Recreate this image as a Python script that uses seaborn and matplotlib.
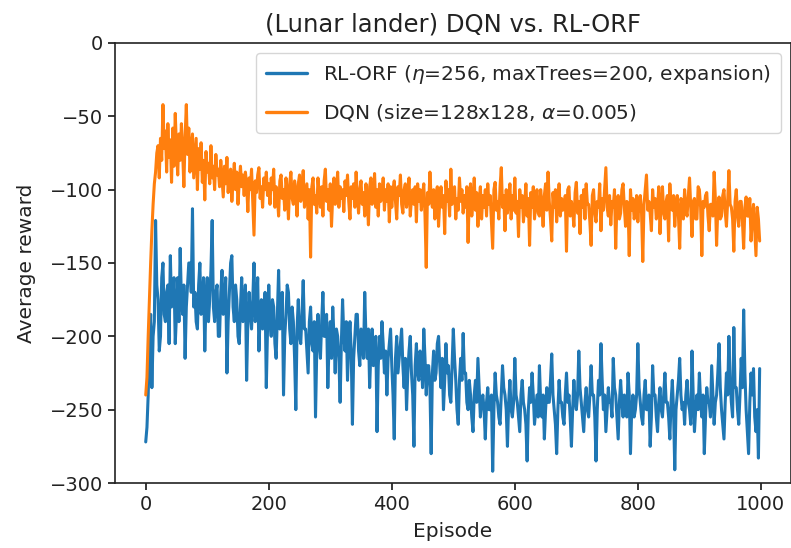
import numpy as np
import pandas as pd
import matplotlib
matplotlib.use("Agg")
import matplotlib.pyplot as plt
import seaborn as sns

episodes = list(range(0, 1000, 2))

dqn_reward = [
    -240, -228, -200, -175, -150, -128, -110, -96, -88, -75, -70, -92, -65, -80, -42, -72, -60, -88, -55, -78,
    -66, -95, -58, -84, -48, -72, -90, -62, -80, -55, -74, -98, -64, -42, -76, -58, -88, -70, -62, -92,
    -78, -65, -100, -72, -86, -68, -95, -80, -107, -74, -88, -82, -96, -70, -92, -84, -100, -76, -90, -86,
    -98, -80, -92, -105, -84, -96, -78, -102, -90, -86, -108, -94, -82, -100, -88, -110, -95, -84, -98, -90,
    -104, -88, -96, -115, -92, -100, -86, -108, -131, -94, -102, -90, -85, -106, -98, -112, -92, -100, -88, -104,
    -96, -110, -92, -100, -86, -112, -98, -104, -118, -94, -90, -106, -100, -114, -92, -102, -120, -96, -88, -106,
    -110, -94, -102, -118, -96, -90, -108, -100, -87, -112, -104, -96, -120, -100, -146, -98, -92, -110, -104, -116,
    -92, -104, -112, -98, -118, -94, -86, -108, -100, -114, -96, -125, -104, -92, -110, -100, -88, -112, -98, -106,
    -100, -115, -94, -104, -90, -108, -120, -98, -106, -96, -112, -88, -104, -116, -100, -94, -110, -102, -118, -96,
    -106, -124, -98, -92, -110, -104, -89, -112, -100, -118, -96, -108, -104, -92, -114, -100, -108, -96, -122, -98,
    -112, -100, -94, -108, -120, -98, -104, -90, -110, -116, -100, -96, -112, -104, -92, -118, -106, -100, -110, -98,
    -122, -96, -108, -100, -114, -104, -96, -118, -153, -102, -110, -88, -106, -112, -100, -120, -104, -98, -125, -108,
    -98, -112, -104, -130, -94, -108, -100, -118, -86, -110, -104, -98, -120, -106, -114, -92, -108, -100, -116, -104,
    -112, -98, -136, -104, -96, -118, -108, -92, -114, -102, -125, -108, -98, -120, -104, -112, -100, -118, -96, -110,
    -104, -122, -140, -100, -95, -114, -108, -120, -98, -85, -112, -104, -128, -100, -116, -108, -96, -120, -104, -114,
    -92, -116, -108, -132, -100, -112, -104, -122, -110, -96, -118, -106, -138, -102, -112, -98, -120, -108, -100, -116,
    -118, -100, -110, -125, -104, -96, -114, -88, -108, -120, -135, -102, -112, -100, -122, -108, -96, -118, -106, -114,
    -112, -104, -142, -100, -98, -118, -108, -114, -125, -102, -95, -116, -108, -130, -104, -112, -100, -120, -96, -110,
    -110, -122, -138, -104, -100, -116, -122, -108, -112, -96, -128, -106, -114, -100, -85, -112, -118, -104, -124, -108,
    -112, -100, -140, -108, -104, -120, -116, -100, -96, -112, -125, -108, -110, -145, -100, -114, -106, -120, -115, -104,
    -122, -108, -104, -116, -149, -110, -100, -90, -114, -108, -116, -128, -100, -112, -106, -120, -112, -98, -130, -110,
    -98, -116, -120, -108, -104, -135, -96, -112, -114, -104, -125, -110, -104, -118, -140, -106, -110, -120, -100, -114,
    -118, -104, -92, -112, -132, -108, -106, -120, -120, -98, -100, -112, -145, -108, -112, -104, -102, -118, -128, -110,
    -110, -118, -88, -106, -138, -112, -105, -120, -118, -104, -100, -115, -125, -108, -87, -110, -112, -120, -142, -108,
    -100, -118, -125, -108, -108, -122, -140, -112, -105, -118, -118, -106, -135, -120, -110, -128, -145, -112, -120, -135,
]

rlorf_reward = [
    -272, -262, -240, -205, -185, -235, -200, -190, -121, -165, -175, -210, -200, -160, -150, -185, -190, -170, -165, -205,
    -145, -180, -175, -160, -205, -185, -160, -190, -140, -175, -185, -165, -215, -180, -165, -150, -150, -170, -113, -180,
    -170, -190, -195, -165, -150, -185, -180, -160, -210, -175, -160, -190, -175, -155, -121, -180, -190, -170, -165, -200,
    -200, -170, -155, -185, -180, -160, -225, -190, -170, -150, -145, -180, -190, -165, -175, -200, -205, -180, -160, -190,
    -185, -165, -230, -190, -170, -185, -195, -175, -150, -190, -180, -160, -210, -185, -175, -195, -190, -170, -235, -195,
    -165, -190, -200, -175, -180, -205, -215, -185, -155, -195, -190, -170, -240, -200, -185, -165, -170, -195, -205, -180,
    -190, -215, -250, -195, -175, -200, -205, -185, -162, -195, -195, -210, -225, -190, -180, -205, -210, -190, -255, -210,
    -185, -205, -215, -190, -170, -200, -200, -185, -235, -205, -190, -215, -180, -200, -225, -195, -200, -215, -245, -205,
    -175, -200, -210, -190, -230, -205, -190, -210, -260, -215, -200, -185, -185, -210, -220, -195, -205, -215, -170, -200,
    -215, -195, -235, -210, -195, -220, -210, -200, -265, -220, -200, -215, -190, -205, -225, -210, -240, -215, -205, -195,
    -220, -240, -270, -215, -200, -225, -215, -205, -195, -220, -235, -215, -250, -225, -210, -200, -225, -240, -275, -220,
    -205, -225, -230, -210, -215, -235, -195, -215, -240, -220, -220, -235, -280, -225, -210, -230, -225, -205, -200, -220,
    -235, -215, -250, -230, -205, -225, -220, -240, -245, -220, -195, -215, -230, -250, -260, -230, -215, -230, -198, -225,
    -225, -245, -250, -230, -240, -255, -265, -240, -230, -245, -215, -235, -255, -245, -240, -250, -270, -245, -235, -250,
    -250, -240, -292, -250, -225, -240, -245, -255, -260, -240, -220, -235, -240, -250, -275, -245, -230, -250, -255, -245,
    -215, -240, -245, -255, -265, -240, -230, -245, -250, -260, -285, -250, -235, -245, -225, -240, -260, -250, -240, -255,
    -220, -245, -255, -240, -270, -250, -235, -245, -245, -230, -212, -240, -250, -260, -280, -250, -230, -245, -245, -255,
    -260, -240, -225, -245, -240, -255, -275, -250, -230, -245, -250, -240, -210, -235, -245, -255, -265, -245, -235, -250,
    -255, -240, -220, -240, -240, -255, -285, -250, -230, -240, -205, -230, -250, -240, -265, -250, -235, -245, -245, -255,
    -215, -235, -240, -255, -270, -245, -230, -245, -255, -240, -245, -255, -225, -240, -280, -250, -240, -255, -250, -240,
    -205, -235, -245, -255, -260, -240, -230, -250, -250, -240, -275, -255, -220, -240, -240, -255, -265, -245, -235, -250,
    -255, -240, -225, -245, -245, -255, -270, -245, -230, -250, -291, -250, -240, -230, -215, -240, -250, -245, -260, -240,
    -230, -245, -250, -260, -210, -240, -265, -250, -240, -250, -225, -245, -255, -240, -280, -255, -235, -245, -245, -255,
    -220, -240, -260, -245, -240, -225, -205, -235, -250, -260, -270, -245, -225, -240, -200, -230, -245, -255, -194, -235,
    -235, -250, -260, -240, -215, -235, -182, -225, -250, -265, -280, -245, -225, -240, -222, -255, -265, -250, -283, -222,
]

labels = [r"RL-ORF ($\eta$=256, maxTrees=200, expansion)",
          r"DQN (size=128x128, $\alpha$=0.005)"]
title = "(Lunar lander) DQN vs. RL-ORF"

df = pd.concat([
    pd.DataFrame({"Episode": episodes, "reward": rlorf_reward, "series": labels[0]}),
    pd.DataFrame({"Episode": episodes, "reward": dqn_reward, "series": labels[1]}),
])

sns.set_style("ticks")
plt.rcParams["font.family"] = ["DejaVu Sans"]

fig = plt.figure(figsize=(7.91, 5.48), dpi=100)
ax = fig.add_axes([115 / 791, 1 - 483 / 548, 1 - 115 / 791, 440 / 548])

sns.lineplot(data=df, x="Episode", y="reward", hue="series", hue_order=labels,
             palette=["#1f77b4", "#ff7f0e"], estimator=None, linewidth=2.2, ax=ax)

ax.set_xlim(-49.95, 1048.95)
ax.set_ylim(-300, 0)
ax.set_xticks([0, 200, 400, 600, 800, 1000])
ax.set_yticks([-300, -250, -200, -150, -100, -50, 0])
ax.tick_params(labelsize=14, length=5, width=1.1, color="black", labelcolor="#222222")
for s in ax.spines.values():
    s.set_linewidth(1.2)
    s.set_color("#222222")

ax.set_title(title, fontsize=17.5, color="#222222", pad=8)
ax.set_xlabel("Episode", fontsize=14.5, color="#222222", labelpad=6)
ax.set_ylabel("Average reward", fontsize=14.5, color="#222222", labelpad=10)

leg = ax.legend(loc="upper right", fontsize=14.5, frameon=True, handlelength=2.0,
                labelspacing=0.8, borderpad=0.5)
leg.get_frame().set_edgecolor("#cccccc")
for line in leg.get_lines():
    line.set_linewidth(2.4)

fig.savefig("out.png", dpi=100)
